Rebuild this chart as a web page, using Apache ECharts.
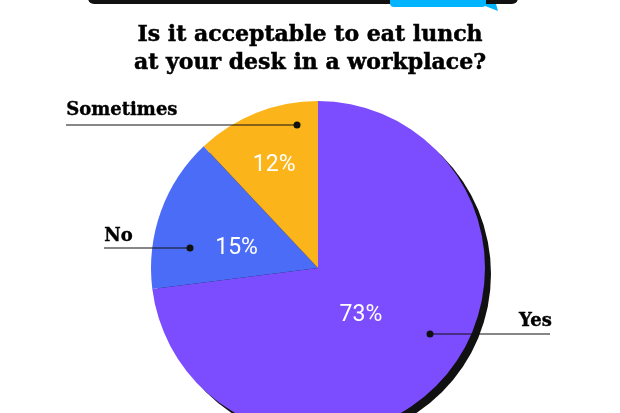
<!DOCTYPE html>
<html>
<head>
<meta charset="utf-8">
<script src="https://cdn.jsdelivr.net/npm/echarts@6/dist/echarts.min.js"></script>
<style>html,body{margin:0;padding:0;background:#fff}#chart{width:620px;height:413px}</style>
</head>
<body>
<div id="chart"></div>
<script>
const categories = ["Yes", "No", "Sometimes"];
const values = [73, 15, 12];
const colors = ["#7c4dff", "#4a6cf7", "#fbb41a"];
const labelShift = [[-22, -10], [0, 10], [-12, -22]];

const cx = 318, cy = 268, R = 167;
const chart = echarts.init(document.getElementById("chart"));

const data = categories.map((name, i) => ({
  name: name,
  value: values[i],
  itemStyle: { color: colors[i] },
  label: { offset: labelShift[i] },
}));

const nameLabels = [
  { text: "Yes", tx: 552, ty: 325, lx1: 430, lx2: 550, ly: 334, anchor: "right" },
  { text: "No", tx: 104, ty: 240, lx1: 104, lx2: 190, ly: 248, anchor: "left" },
  { text: "Sometimes", tx: 66, ty: 114, lx1: 66, lx2: 297, ly: 125, anchor: "left" },
];

const graphics = [
  { type: "rect", shape: { x: 88, y: -20, width: 430, height: 24, r: 6 }, style: { fill: "#111" } },
  { type: "rect", shape: { x: 390, y: -20, width: 96, height: 27, r: 4 }, style: { fill: "#00b4ff" } },
  { type: "polygon", shape: { points: [[480, 4], [496, 4], [498, 11]] }, style: { fill: "#00b4ff" } },
];
nameLabels.forEach((l) => {
  graphics.push({ type: "line", z: 10, shape: { x1: l.lx1, y1: l.ly, x2: l.lx2, y2: l.ly }, style: { stroke: "#111", lineWidth: 1.2 } });
  const dx = l.anchor === "left" ? l.lx2 : l.lx1;
  graphics.push({ type: "circle", z: 10, shape: { cx: dx, cy: l.ly, r: 3.5 }, style: { fill: "#111" } });
  graphics.push({
    type: "text", z: 10, left: l.anchor === "left" ? l.tx : null, right: l.anchor === "right" ? 620 - l.tx : null, top: l.ty - 13,
    style: { text: l.text, font: "900 18px 'DejaVu Serif'", fill: "#000", stroke: "#000", lineWidth: 0.4 },
  });
});

chart.setOption({
  animation: false,
  title: {
    text: "Is it acceptable to eat lunch\nat your desk in a workplace?",
    left: "center",
    top: 16,
    textStyle: { fontFamily: "DejaVu Serif", fontWeight: "bold", fontSize: 22, lineHeight: 28, color: "#000", textBorderColor: "#000", textBorderWidth: 0.5 },
  },
  graphic: graphics,
  series: [
    {
      type: "pie",
      center: [cx + 6, cy + 6],
      radius: R,
      silent: true,
      label: { show: false },
      itemStyle: { color: "#111" },
      data: [{ value: 1 }],
    },
    {
      type: "pie",
      center: [cx, cy],
      radius: R,
      startAngle: 90,
      clockwise: true,
      label: {
        show: true,
        position: "inside",
        formatter: "{c}%",
        color: "#fff",
        fontFamily: "Roboto",
        fontSize: 23,
      },
      labelLine: { show: false },
      data: data,
    },
  ],
});
</script>
</body>
</html>
